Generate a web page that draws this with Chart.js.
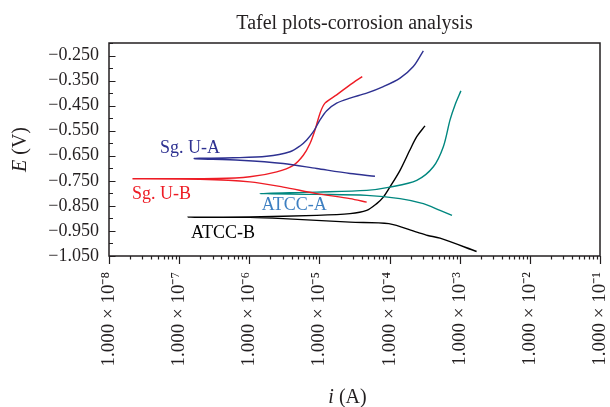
<!DOCTYPE html>
<html>
<head>
<meta charset="utf-8">
<script src="https://cdn.jsdelivr.net/npm/chart.js@4.4.1/dist/chart.umd.min.js"></script>
<style>
  body { margin: 0; background: #fff; }
  #tafel-chart { display: block; }
</style>
</head>
<body>
<canvas id="tafel-chart" width="610" height="407"></canvas>
<script>
// current i (A) and potential E (V), each curve read from the cathodic end -> Ecorr -> anodic end
const sgUA_i = [6.19e-5, 2.73e-5, 9.14e-6, 3.05e-6, 7.38e-7, 1.64e-7, 5.92e-7, 1.77e-6, 3.81e-6, 5.28e-6, 6.59e-6, 8.19e-6, 1.02e-5, 1.27e-5, 1.76e-5, 2.73e-5, 4.72e-5, 8.15e-5, 1.41e-4, 2.18e-4, 3.03e-4];
const sgUA_E = [-0.732, -0.721, -0.701, -0.681, -0.668, -0.661, -0.658, -0.652, -0.634, -0.611, -0.587, -0.554, -0.507, -0.470, -0.440, -0.420, -0.400, -0.374, -0.340, -0.294, -0.231];

const sgUB_i = [4.72e-5, 2.73e-5, 9.14e-6, 3.05e-6, 1.02e-6, 1.98e-7, 2.2e-8, 3.44e-7, 1.02e-6, 2.46e-6, 4.25e-6, 5.89e-6, 7.34e-6, 8.65e-6, 1.02e-5, 1.20e-5, 1.76e-5, 2.73e-5, 4.08e-5];
const sgUB_E = [-0.835, -0.821, -0.801, -0.775, -0.754, -0.744, -0.742, -0.741, -0.734, -0.714, -0.688, -0.648, -0.601, -0.547, -0.480, -0.440, -0.407, -0.367, -0.334];

const atccA_i = [7.76e-4, 5.24e-4, 3.03e-4, 1.41e-4, 4.72e-5, 9.14e-6, 1.42e-6, 9.14e-6, 4.72e-5, 1.01e-4, 2.44e-4, 4.21e-4, 5.84e-4, 7.28e-4, 8.57e-4, 1.04e-3];
const atccA_E = [-0.888, -0.868, -0.841, -0.821, -0.808, -0.804, -0.801, -0.795, -0.788, -0.775, -0.748, -0.694, -0.614, -0.507, -0.447, -0.391];

const atccB_i = [1.74e-3, 5.24e-4, 3.51e-4, 2.44e-4, 9.75e-5, 2.73e-5, 3.05e-6, 1.02e-6, 1.34e-7, 1.02e-6, 9.14e-6, 2.73e-5, 4.72e-5, 6.56e-5, 8.15e-5, 1.01e-4, 1.41e-4, 1.95e-4, 2.44e-4, 3.20e-4];
const atccB_E = [-1.032, -0.979, -0.968, -0.955, -0.921, -0.915, -0.901, -0.896, -0.895, -0.894, -0.888, -0.881, -0.868, -0.841, -0.815, -0.775, -0.708, -0.627, -0.574, -0.531];

// curve names and where they sit (data units, left end of text baseline)
const seriesNames = ['Sg. U-A', 'Sg. U-B', 'ATCC-A', 'ATCC-B'];
const nameAt_i = [5.33e-8, 2.13e-8, 1.50e-6, 1.48e-7];
const nameAt_E = [-0.638, -0.823, -0.868, -0.980];

const lineColors = ['#2e3191', '#ee1c25', '#00877f', '#000000'];
const nameColors = ['#2e3191', '#ee1c25', '#3d7fc1', '#000000'];

const serif = '"Liberation Serif", "Times New Roman", serif';
const ink = '#231f20';

function toPoints(xs, ys) {
  return xs.map((x, k) => ({ x: x, y: ys[k] }));
}

function supNum(n) {
  const map = { '-': '\u207B', '0': '\u2070', '1': '\u00B9', '2': '\u00B2', '3': '\u00B3', '4': '\u2074', '5': '\u2075', '6': '\u2076', '7': '\u2077', '8': '\u2078', '9': '\u2079' };
  return String(n).split('').map(c => map[c]).join('');
}

function isDecade(v) {
  const n = Math.log10(v);
  return Math.abs(n - Math.round(n)) < 1e-6;
}

function makeSet(label, xs, ys, color) {
  return {
    label: label,
    data: toPoints(xs, ys),
    showLine: true,
    borderColor: color,
    backgroundColor: color,
    borderWidth: 1.4,
    pointRadius: 0,
    tension: 0.3
  };
}

// frame, tick marks and the texts the library can't style the way the figure does
const decorPlugin = {
  id: 'decor',
  afterDraw(chart) {
    const c = chart.ctx;
    const a = chart.chartArea;
    const xs = chart.scales.x;
    const ys = chart.scales.y;
    c.save();

    // ticks on x: outward, long at decades
    c.strokeStyle = ink;
    c.lineWidth = 1.2;
    c.beginPath();
    for (let n = -8; n <= -1; n++) {
      for (let k = 1; k <= 9; k++) {
        const v = k * Math.pow(10, n);
        if (v > 0.1000001) break;
        const px = Math.round(xs.getPixelForValue(v)) + 0.5;
        c.moveTo(px, a.bottom);
        c.lineTo(px, a.bottom + (k === 1 ? 8 : 3.5));
      }
    }
    // ticks on y: inward
    ys.ticks.forEach(t => {
      const k = Math.round((t.value + 1.05) / 0.05);
      const py = Math.round(ys.getPixelForValue(t.value)) + 0.5;
      c.moveTo(a.left, py);
      c.lineTo(a.left + (k % 2 === 0 ? 6.5 : 4), py);
    });
    c.stroke();

    // frame
    c.lineWidth = 1.5;
    c.strokeRect(a.left, a.top, a.right - a.left, a.bottom - a.top);

    // chart title
    c.fillStyle = ink;
    c.font = '20px ' + serif;
    c.textAlign = 'center';
    c.textBaseline = 'alphabetic';
    c.fillText('Tafel plots-corrosion analysis', (a.left + a.right) / 2, 29);

    // x axis title: italic i (A)
    c.font = 'italic 20px ' + serif;
    const wi = c.measureText('i').width;
    c.font = '20px ' + serif;
    const wa = c.measureText(' (A)').width;
    let sx = (a.left + a.right) / 2 - 7 - (wi + wa) / 2;
    c.textAlign = 'left';
    c.font = 'italic 20px ' + serif;
    c.fillText('i', sx, 403);
    c.font = '20px ' + serif;
    c.fillText(' (A)', sx + wi, 403);

    // y axis title: italic E (V), rotated
    c.save();
    c.translate(26, (a.top + a.bottom) / 2);
    c.rotate(-Math.PI / 2);
    c.font = 'italic 20px ' + serif;
    const we = c.measureText('E').width;
    c.font = '20px ' + serif;
    const wv = c.measureText(' (V)').width;
    sx = -(we + wv) / 2;
    c.font = 'italic 20px ' + serif;
    c.fillText('E', sx, 0);
    c.font = '20px ' + serif;
    c.fillText(' (V)', sx + we, 0);
    c.restore();

    // curve names
    c.font = '18px ' + serif;
    seriesNames.forEach((name, k) => {
      c.fillStyle = nameColors[k];
      c.fillText(name, xs.getPixelForValue(nameAt_i[k]), ys.getPixelForValue(nameAt_E[k]));
    });

    c.restore();
  }
};

const config = {
  type: 'scatter',
  data: {
    datasets: [
      makeSet(seriesNames[0], sgUA_i, sgUA_E, lineColors[0]),
      makeSet(seriesNames[1], sgUB_i, sgUB_E, lineColors[1]),
      makeSet(seriesNames[2], atccA_i, atccA_E, lineColors[2]),
      makeSet(seriesNames[3], atccB_i, atccB_E, lineColors[3])
    ]
  },
  options: {
    responsive: false,
    animation: false,
    layout: {
      padding: { top: 43, right: 10, left: 0, bottom: 0 }
    },
    plugins: {
      legend: { display: false },
      tooltip: { enabled: false }
    },
    scales: {
      x: {
        type: 'logarithmic',
        min: 1e-8,
        max: 1e-1,
        grid: { display: false },
        border: { display: false },
        ticks: {
          autoSkip: false,
          minRotation: 90,
          maxRotation: 90,
          padding: 8,
          color: ink,
          font: { family: serif, size: 19 },
          callback: function (v) {
            if (!isDecade(v)) return '';
            return '1.000 \u00D7 10' + supNum(Math.round(Math.log10(v)));
          }
        },
        afterFit: function (s) {
          s.height = 151;
          s.paddingLeft = 0;
          s.paddingRight = 0;
        }
      },
      y: {
        min: -1.05,
        max: -0.2,
        grid: { display: false },
        border: { display: false },
        ticks: {
          stepSize: 0.05,
          autoSkip: false,
          padding: 2,
          color: ink,
          font: { family: serif, size: 18 },
          callback: function (v) {
            const k = Math.round((v + 1.05) / 0.05);
            if (k % 2 !== 0) return '';
            return '\u2212' + Math.abs(v).toFixed(3);
          }
        },
        afterFit: function (s) {
          s.width = 109;
          s.paddingTop = 0;
          s.paddingBottom = 0;
        }
      }
    }
  },
  plugins: [decorPlugin]
};

const tafelChart = new Chart(document.getElementById('tafel-chart'), config);
</script>
</body>
</html>
